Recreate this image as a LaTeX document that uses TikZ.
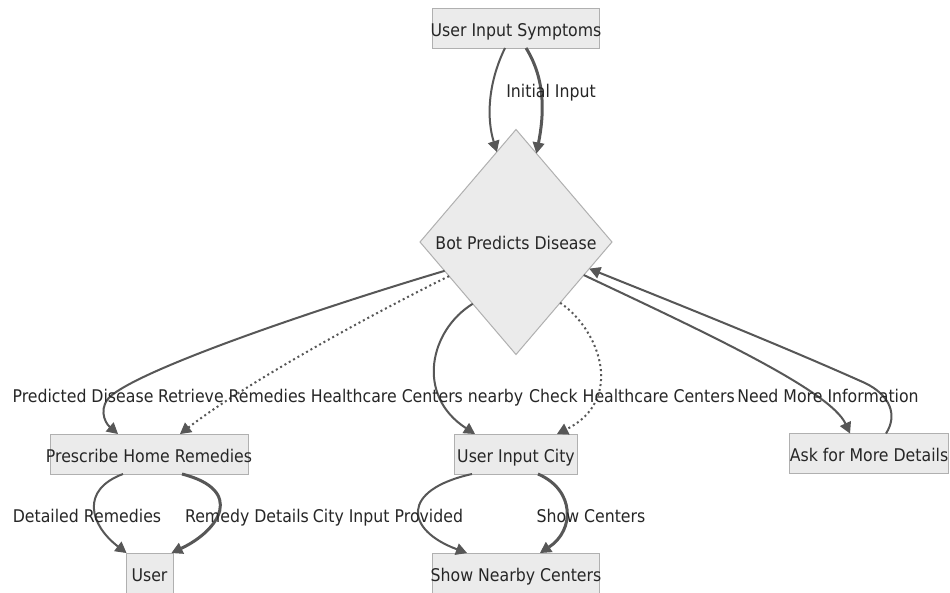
\documentclass[tikz,border=0pt]{standalone}
\usepackage{fontspec}
\setmainfont{DejaVu Sans}[FakeStretch=0.9]
\usetikzlibrary{shapes.geometric,arrows.meta}
\definecolor{boxfill}{HTML}{EBEBEB}
\definecolor{boxline}{HTML}{B0B0B0}
\definecolor{edgec}{HTML}{575757}
\definecolor{txt}{HTML}{262626}
\tikzset{
  box/.style={draw=boxline, fill=boxfill, line width=1pt, minimum height=40pt,
    inner sep=0pt, outer sep=0pt, text=txt, text height=16pt, text depth=0pt,
    font=\fontsize{17.5}{21}\selectfont},
  dia/.style={shape=diamond, draw=boxline, fill=boxfill, line width=1pt,
    minimum width=192pt, minimum height=225pt, inner sep=0pt, outer sep=0pt,
    text=txt, text height=14pt, text depth=0pt, font=\fontsize{17.5}{21}\selectfont},
  lbl/.style={text=txt, inner sep=0pt, anchor=base, font=\fontsize{17.5}{21}\selectfont},
  edge/.style={draw=edgec, line width=2pt,
    -{Triangle[length=11pt,width=12pt,line width=1pt]}},
  thickedge/.style={edge, line width=3pt},
  dotedge/.style={edge, dash pattern=on 2pt off 3pt}
}
\begin{document}
\begin{tikzpicture}[x=1pt,y=-1pt]
\useasboundingbox (0,0) rectangle (950,592);
\fill[white] (0,0) rectangle (950,592);
% nodes
\node[box, minimum width=167pt] (sym) at (516,28) {\makebox[0pt]{User Input Symptoms}};
\node[dia] (dia) at (516,242) {\makebox[0pt]{Bot Predicts Disease}};
\node[box, minimum width=198pt] (rem) at (149,454) {\makebox[0pt]{Prescribe Home Remedies}};
\node[box, minimum width=47pt] (usr) at (149.5,573) {\makebox[0pt]{User}};
\node[box, minimum width=123pt] (city) at (516,454) {\makebox[0pt]{User Input City}};
\node[box, minimum width=167pt] (show) at (516,573) {\makebox[0pt]{Show Nearby Centers}};
\node[box, minimum width=159pt] (ask) at (869,453.5) {\makebox[0pt]{Ask for More Details}};
% edges
\draw[edge] ([xshift=-11pt]sym.south) .. controls (487,85) and (487,120) .. (dia.102);
\draw[thickedge] ([xshift=10pt]sym.south) .. controls (546,80) and (544,115) .. (dia.77);
\draw[edge] (dia.202) .. controls (330,305) and (150,365) .. (112,395)
   .. controls (98,406) and (104,422) .. ([xshift=-31pt]rem.north);
\draw[dotedge] (dia.207) .. controls (380,310) and (250,380) .. ([xshift=31pt]rem.north);
\draw[edge] (dia.235) .. controls (430,330) and (415,395) .. ([xshift=-41pt]city.north);
\draw[dotedge] (dia.306) .. controls (600,330) and (625,400) .. ([xshift=41pt]city.north);
\draw[edge] (dia.334) .. controls (700,330) and (830,390) .. ([xshift=-19pt]ask.north);
\draw[edge] ([xshift=17pt]ask.north) .. controls (898,415) and (890,395) .. (865,383)
   .. controls (780,345) and (680,305) .. (dia.340);
\draw[edge] ([xshift=-26pt]rem.south) .. controls (80,490) and (90,525) .. ([xshift=-23pt]usr.north);
\draw[thickedge] ([xshift=33pt]rem.south) .. controls (245,490) and (220,530) .. ([xshift=22pt]usr.north);
\draw[edge] ([xshift=-44pt]city.south) .. controls (400,490) and (405,530) .. ([xshift=-49pt]show.north);
\draw[thickedge] ([xshift=22pt]city.south) .. controls (575,490) and (575,530) .. ([xshift=24pt]show.north);
% labels
\node[lbl] (l1) at (551,97) {Initial Input};
\node[lbl] (l2) at (83,402) {Predicted Disease};
\node[lbl] (l3) at (232,402) {Retrieve Remedies};
\node[lbl] (l4) at (417,402) {Healthcare Centers nearby};
\node[lbl] (l5) at (632,402) {Check Healthcare Centers};
\node[lbl] (l6) at (828,402) {Need More Information};
\node[lbl] (l7) at (87,522) {Detailed Remedies};
\node[lbl] (l8) at (247,522) {Remedy Details};
\node[lbl] (l9) at (388,522) {City Input Provided};
\node[lbl] (l10) at (591,522) {Show Centers};
\end{tikzpicture}
\end{document}
